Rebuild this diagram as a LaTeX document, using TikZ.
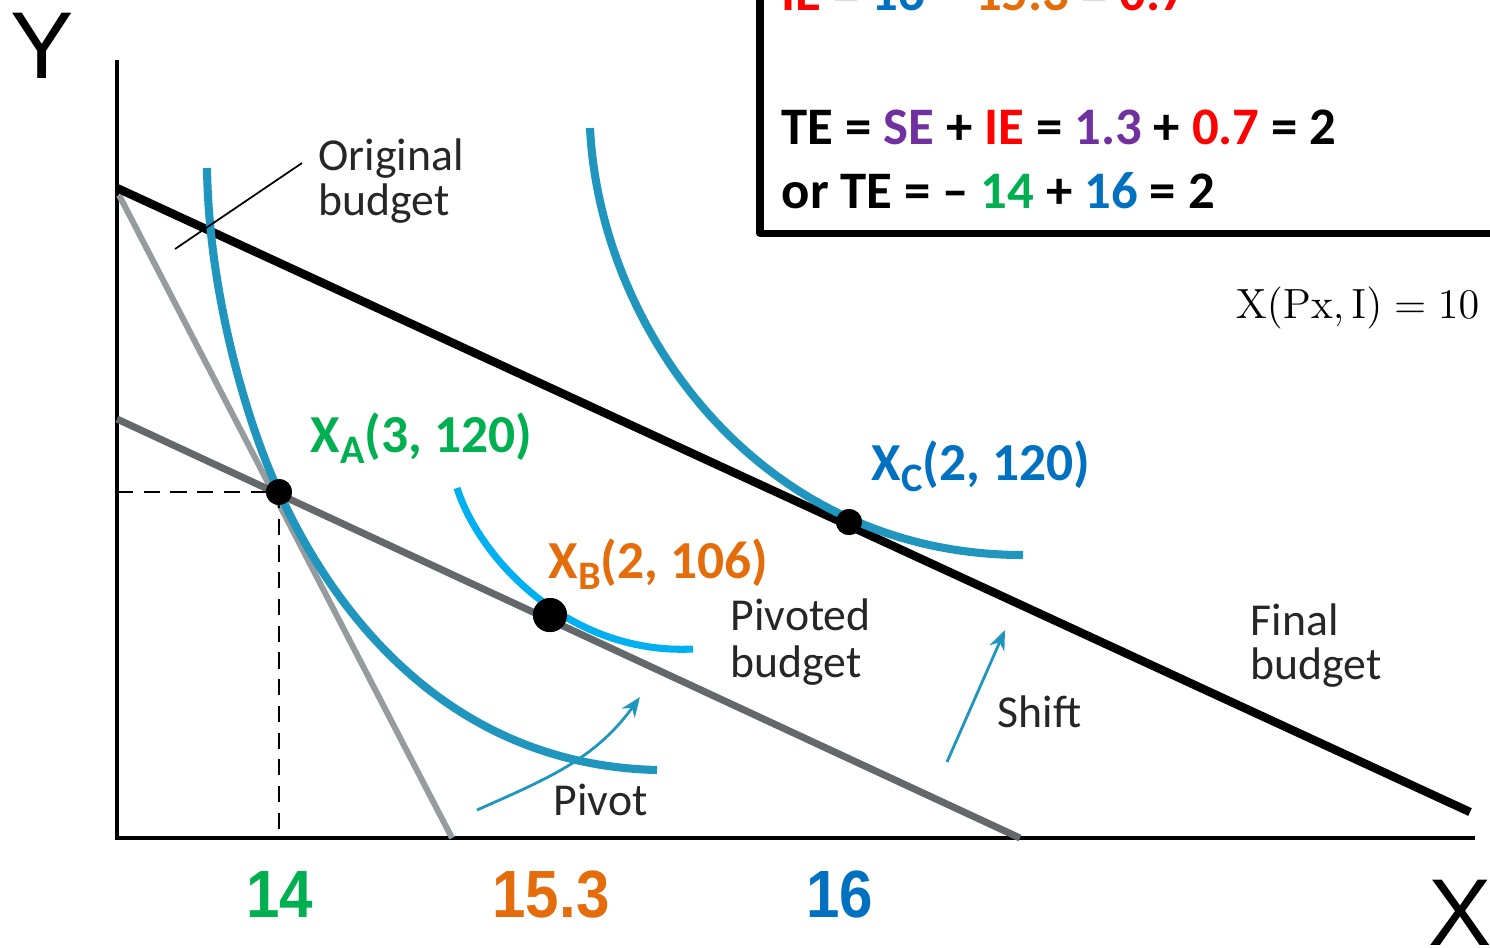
\documentclass[tikz,border=0pt]{standalone}
\usepackage[no-math]{fontspec}
\setmainfont{Carlito}
\newfontfamily\arialfont{Liberation Sans}
\usetikzlibrary{arrows.meta}

\definecolor{cgreen}{RGB}{0,176,80}
\definecolor{corange}{RGB}{228,108,10}
\definecolor{cblue}{RGB}{0,112,192}
\definecolor{cred}{RGB}{255,0,0}
\definecolor{cpurple}{RGB}{112,48,160}
\definecolor{icteal}{RGB}{32,150,190}
\definecolor{icsky}{RGB}{0,176,240}
\definecolor{lgray}{RGB}{150,155,158}
\definecolor{dgray}{RGB}{100,104,106}

\newcommand{\lowsub}[1]{\raisebox{-0.22em}{\fontsize{11.5}{12}\selectfont #1}}

\begin{document}
\begin{tikzpicture}[x=0.01cm, y=-0.01cm, >={Stealth[length=2mm, width=1.6mm]},
	dot/.style={circle, fill=black, inner sep=0pt, minimum size=#1},
	eqtext/.style={anchor=base west, inner sep=0pt, font=\bfseries\fontsize{15}{18}\selectfont},
	pttext/.style={anchor=base west, inner sep=0pt, font=\bfseries\fontsize{15.2}{18}\selectfont},
	lbl/.style={anchor=base west, inner sep=0pt, text=black!85, font=\fontsize{13}{15}\selectfont},
	numtext/.style={anchor=base, inner sep=0pt, xscale=0.9, font=\arialfont\bfseries\fontsize{19}{22}\selectfont},
	icline/.style={icteal, line width=2.3pt}]
			\useasboundingbox (0,0) rectangle (1490,947);
			\clip (0,0) rectangle (1490,947);

			% Trục tọa độ
			\coordinate (O) at (117,838);
			\coordinate (ytop) at (117,60);
			\coordinate (xend) at (1475,838);
			\draw[line width=1.4pt] (ytop) -- (O) -- (xend);
			\node[anchor=base west, inner sep=0pt, font=\arialfont\fontsize{27}{30}\selectfont] (ylab) at (10,78) {Y};
			\node[anchor=base east, inner sep=0pt, font=\arialfont\fontsize{27}{30}\selectfont] (xlab) at (1493,945) {X};

			% Các đường ngân sách
			\coordinate (org0) at (119,195);
			\coordinate (org1) at (452,838);
			\coordinate (piv0) at (117,419);
			\coordinate (piv1) at (1020,838);
			\coordinate (fin0) at (117,188);
			\coordinate (fin1) at (1470,812);
			\draw[lgray, line width=1.7pt] (org0) -- (org1);
			\draw[dgray, line width=2pt] (piv0) -- (piv1);
			\draw[black, line width=2.4pt] (fin0) -- (fin1);

			% Các điểm cân bằng
			\node[dot=0.26cm] (XA) at (279,492) {};
			\node[dot=0.34cm] (XB) at (550,615) {};
			\node[dot=0.26cm] (XC) at (849,522) {};

			% Các đường bàng quan
			\draw[icline] (207,168) .. controls (209,300) and (250,430) .. (XA.center)
				.. controls (335,615) and (450,765) .. (657,770);
			\draw[icsky, line width=2pt] (457,488) .. controls (480,560) and (570,655) .. (693,649);
			\draw[icline] (590,128) .. controls (600,330) and (760,555) .. (1023,555);

			% Đường gióng
			\draw[line width=0.6pt, dash pattern=on 4.6pt off 3pt] (O |- XA) -- (XA.center);
			\draw[line width=0.6pt, dash pattern=on 4.6pt off 3pt] (XA.center) -- (XA |- O);
			\node[dot=0.26cm] at (XA) {};
			\node[dot=0.34cm] at (XB) {};
			\node[dot=0.26cm] at (XC) {};

			\node[pttext, text=cgreen] (labA) at (310,452) {X\lowsub{A}(3, 120)};
			\node[pttext, text=corange] (labB) at (548,578) {X\lowsub{B}(2, 106)};
			\node[pttext, text=cblue] (labC) at (871,480) {X\lowsub{C}(2, 120)};

			% Nhãn các đường
			\coordinate (lead0) at (175,249);
			\coordinate (lead1) at (302,163);
			\draw[line width=0.5pt] (lead0) -- (lead1);
			\node[lbl] (org) at (318,170) {Original};
			\node[lbl] (orgb) at (318,215) {budget};
			\node[lbl] (piv) at (730,630) {Pivoted};
			\node[lbl] (pivb) at (730,677) {budget};
			\node[lbl] (fin) at (1250,635) {Final};
			\node[lbl] (finb) at (1250,679) {budget};
			\node[lbl] (shift) at (997,727) {Shift};
			\node[lbl] (pivot) at (553,815) {Pivot};

			% Mũi tên xoay và dịch chuyển
			\coordinate (pvA) at (477,810);
			\coordinate (pvB) at (640,697);
			\draw[->, icteal, line width=0.8pt] (pvA) to[out=24, in=-126] (pvB);
			\coordinate (shA) at (947,762);
			\coordinate (shB) at (1005,630);
			\draw[->, icteal, line width=0.8pt] (shA) -- (shB);

			% Giá trị trên trục X
			\node[numtext, text=cgreen] (n14) at (280,917) {14};
			\node[numtext, text=corange] (n153) at (551,917) {15.3};
			\node[numtext, text=cblue] (n16) at (840,917) {16};

			% Khung công thức
			\coordinate (boxtop) at (760,-10);
			\coordinate (boxcorner) at (760,233);
			\coordinate (boxright) at (1500,233);
			\draw[line width=2pt, line join=round] (boxtop) -- (boxcorner) -- (boxright);
			\node[eqtext] (ie) at (781,10) {\textcolor{cred}{IE} = \textcolor{cblue}{16} – \textcolor{corange}{15.3} = \textcolor{cred}{0.7}};
			\node[eqtext] (te) at (781,144) {TE = \textcolor{cpurple}{SE} + \textcolor{cred}{IE} = \textcolor{cpurple}{1.3} + \textcolor{cred}{0.7} = 2};
			\node[eqtext] (te2) at (781,208) {or TE = – \textcolor{cgreen}{14} + \textcolor{cblue}{16} = 2};

			\node[anchor=base east, inner sep=0pt, font=\fontsize{12.5}{15}\selectfont] (xpx) at (1480,318) {$\mathrm{X(Px, I)} = 10$};
		\end{tikzpicture}
\end{document}
